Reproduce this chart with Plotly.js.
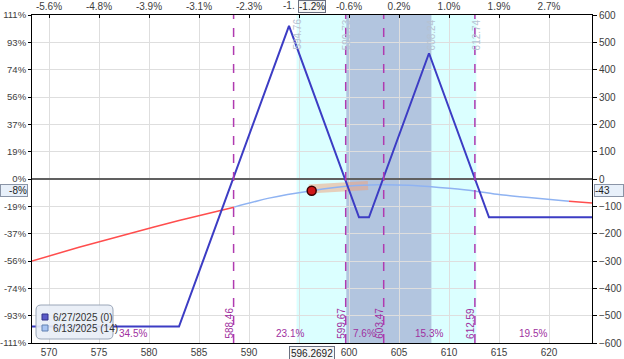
<!DOCTYPE html>
<html><head><meta charset="utf-8">
<script src="https://cdn.plot.ly/plotly-3.0.1.min.js"></script>
<style>html,body{margin:0;padding:0;background:#fff}#chart{width:624px;height:359px}</style>
</head><body><div id="chart"></div>
<script>
// ---- data ----
const xRange = [568.3, 624.3];
const priceTicks = [570, 575, 580, 585, 590, 595, 600, 605, 610, 615, 620];
const priceTickText = ['570', '575', '580', '585', '590', '', '600', '605', '610', '615', '620'];
const pctTickText = ['-5.6%', '-4.8%', '-3.9%', '-3.1%', '-2.3%', '', '-0.6%', '0.2%', '1.0%', '1.9%', '2.7%'];
const hiddenPctStub = '-1.';
const pnlTicks = [-600, -500, -400, -300, -200, -100, 0, 100, 200, 300, 400, 500, 600];
const pnlPctText = ['-111%', '-93%', '-74%', '-56%', '-37%', '-19%', '0%', '19%', '37%', '56%', '74%', '93%', '111%'];

const expiryName = '6/27/2025 (0)';
const expiryX = [568.3, 583, 594, 601, 602, 608, 614, 624.3];
const expiryY = [-540, -540, 560, -140, -140, 460, -140, -140];

const todayName = '6/13/2025 (14)';
const todayX = [568.3, 573, 578, 583, 588.5, 592, 596.27, 600, 603, 606, 609, 612, 615, 618, 622, 624.3];
const todayY = [-300, -250, -200, -152, -103, -70, -43, -26, -21, -23, -31, -41, -57, -68, -81, -88];
const todayInnerFrom = 588.5, todayInnerTo = 622;

const moveBandX = [596.0, 598.0, 600.0, 601.9];
const moveBandY = [-37, -32, -27, -24];

const currentPrice = 596.2692;
const currentPnl = -43;
const currentPnlPct = '-8%';
const currentMovePct = '-1.2%';

const sd1 = [594.76, 612.74];
const sdCore = [599.73, 608.24];
const breakevens = [588.46, 599.67, 603.47, 612.59];
const zoneProbs = ['34.5%', '23.1%', '7.6%', '15.3%', '19.5%'];

// ---- build ----
const purple = '#a030a0';
const inner = [], left = [], right = [];
todayX.forEach((x, i) => {
  if (x <= todayInnerFrom) left.push(i);
  if (x >= todayInnerFrom && x <= todayInnerTo) inner.push(i);
  if (x >= todayInnerTo) right.push(i);
});
const pick = (idx, arr) => idx.map(i => arr[i]);

const traces = [
  {x: moveBandX, y: moveBandY, mode: 'lines', line: {color: 'rgba(242,160,120,0.5)', width: 9}, hoverinfo: 'skip'},
  {x: pick(left, todayX), y: pick(left, todayY), mode: 'lines', line: {color: '#ff4d4d', width: 1.5, shape: 'spline', smoothing: 0.5}, name: todayName},
  {x: pick(inner, todayX), y: pick(inner, todayY), mode: 'lines', line: {color: '#8fb3f2', width: 1.5, shape: 'spline', smoothing: 0.5}, name: todayName},
  {x: pick(right, todayX), y: pick(right, todayY), mode: 'lines', line: {color: '#ff4d4d', width: 1.5, shape: 'spline', smoothing: 0.5}, name: todayName},
  {x: expiryX, y: expiryY, mode: 'lines', line: {color: '#3c3cc4', width: 2}, name: expiryName},
  {x: [currentPrice], y: [currentPnl], mode: 'markers', marker: {size: 9, color: '#d01818', line: {color: '#3a0000', width: 1.5}}},
  {x: [xRange[0]], y: [0], xaxis: 'x2', yaxis: 'y2', mode: 'markers', marker: {opacity: 0}, hoverinfo: 'skip'}
];

const shapes = [];
shapes.push({type: 'rect', xref: 'x', yref: 'paper', x0: sd1[0], x1: sd1[1], y0: 0, y1: 1, fillcolor: '#dbffff', line: {width: 0}, layer: 'below'});
shapes.push({type: 'rect', xref: 'x', yref: 'paper', x0: sdCore[0], x1: sdCore[1], y0: 0, y1: 1, fillcolor: '#b2c5df', line: {width: 0}, layer: 'below'});
breakevens.forEach(b => shapes.push({type: 'line', xref: 'x', yref: 'paper', x0: b, x1: b, y0: 0, y1: 1, line: {color: '#b03ab0', width: 1.5, dash: 'dash'}}));

// legend box (paper coords, plot area 560x328 px)
const W = 560, H = 328;
const px = v => (v - 32) / W, py = v => (343 - v) / H;
const lx0 = 36, lx1 = 113, ly0 = 305, ly1 = 339, r = 5;
shapes.push({type: 'path', xref: 'paper', yref: 'paper',
  path: `M ${px(lx0 + r)} ${py(ly0)} L ${px(lx1 - r)} ${py(ly0)} Q ${px(lx1)} ${py(ly0)} ${px(lx1)} ${py(ly0 + r)} L ${px(lx1)} ${py(ly1 - r)} Q ${px(lx1)} ${py(ly1)} ${px(lx1 - r)} ${py(ly1)} L ${px(lx0 + r)} ${py(ly1)} Q ${px(lx0)} ${py(ly1)} ${px(lx0)} ${py(ly1 - r)} L ${px(lx0)} ${py(ly0 + r)} Q ${px(lx0)} ${py(ly0)} ${px(lx0 + r)} ${py(ly0)} Z`,
  fillcolor: 'rgba(232,238,246,0.92)', line: {color: '#9aa6b8', width: 1}});
shapes.push({type: 'rect', xref: 'paper', yref: 'paper', x0: px(42), x1: px(48), y0: py(320), y1: py(314), fillcolor: '#5a5ac8', line: {color: '#303088', width: 1}});
shapes.push({type: 'rect', xref: 'paper', yref: 'paper', x0: px(42), x1: px(48), y0: py(331), y1: py(325), fillcolor: '#a8c4f2', line: {color: '#6080b0', width: 1}});

const annotations = [];
annotations.push({xref: 'paper', yref: 'paper', x: px(51), y: py(317.5), xanchor: 'left', yanchor: 'middle', text: expiryName, showarrow: false, font: {size: 10, color: '#333'}});
annotations.push({xref: 'paper', yref: 'paper', x: px(51), y: py(328.5), xanchor: 'left', yanchor: 'middle', text: todayName, showarrow: false, font: {size: 10, color: '#333'}});

breakevens.forEach(b => annotations.push({xref: 'x', yref: 'paper', x: b, y: 0, xanchor: 'right', yanchor: 'bottom', xshift: 3, yshift: 2, textangle: -90, text: b.toFixed(2), showarrow: false, font: {size: 10, color: purple}}));
[sd1[0], sdCore[0], sdCore[1], sd1[1]].forEach(v => annotations.push({xref: 'x', yref: 'paper', x: v, y: 1, xanchor: 'right', yanchor: 'top', xshift: 8, yshift: -2, textangle: -90, text: v.toFixed(2), showarrow: false, font: {size: 10, color: '#b6c2d2'}}));

const zoneEdges = [xRange[0]].concat(breakevens, [xRange[1]]);
zoneProbs.forEach((t, i) => annotations.push({xref: 'x', yref: 'y', x: (zoneEdges[i] + zoneEdges[i + 1]) / 2, y: -567, text: t, showarrow: false, font: {size: 10, color: purple}}));

annotations.push({xref: 'x', yref: 'paper', x: currentPrice, y: 0, yanchor: 'top', yshift: -3, text: String(currentPrice), showarrow: false, bgcolor: '#f6f6f6', bordercolor: '#6a7080', borderwidth: 1, borderpad: 1, font: {size: 10, color: '#222'}});
annotations.push({xref: 'x', yref: 'paper', x: currentPrice, y: 1, yanchor: 'bottom', yshift: 2, text: currentMovePct, showarrow: false, bgcolor: '#f6f6f6', bordercolor: '#6a7080', borderwidth: 1, borderpad: 0, font: {size: 10, color: '#222'}});
annotations.push({xref: 'x', yref: 'paper', x: currentPrice, y: 1, xanchor: 'right', yanchor: 'bottom', xshift: -15, yshift: 2, text: hiddenPctStub, showarrow: false, font: {size: 10, color: '#404040'}});
annotations.push({xref: 'paper', yref: 'y', x: 0, y: currentPnl, xanchor: 'right', xshift: -4, text: currentPnlPct, showarrow: false, bgcolor: '#e8f0fa', bordercolor: '#8a94a6', borderwidth: 1, borderpad: 0, width: 26, align: 'right', font: {size: 10, color: '#222'}});
annotations.push({xref: 'paper', yref: 'y', x: 1, y: currentPnl, xanchor: 'left', xshift: 2, text: String(currentPnl), showarrow: false, bgcolor: '#e8f0fa', bordercolor: '#8a94a6', borderwidth: 1, borderpad: 0, width: 28, align: 'left', font: {size: 10, color: '#222'}});

const layout = {
  width: 624, height: 359,
  margin: {l: 32, r: 32, t: 15, b: 16},
  paper_bgcolor: '#fff', plot_bgcolor: '#fff',
  showlegend: false,
  font: {family: 'Liberation Sans, Arial, sans-serif', size: 10, color: '#404040'},
  xaxis: {range: xRange, tickvals: priceTicks, ticktext: priceTickText, showgrid: true, gridcolor: '#dedede', gridwidth: 1, zeroline: false,
    showline: true, linecolor: '#000', linewidth: 1, ticks: '', tickfont: {size: 10, color: '#404040'}},
  xaxis2: {overlaying: 'x', side: 'top', range: xRange, tickvals: priceTicks, ticktext: pctTickText, showgrid: false, zeroline: false,
    showline: true, linecolor: '#000', linewidth: 1, ticks: 'inside', ticklen: 3, tickcolor: '#000', tickfont: {size: 10, color: '#404040'}},
  yaxis: {range: [-600, 600], tickvals: pnlTicks, ticktext: pnlPctText, showgrid: true, gridcolor: '#dedede', gridwidth: 1,
    zeroline: true, zerolinecolor: '#606060', zerolinewidth: 1.5, showline: true, linecolor: '#000', linewidth: 1,
    ticks: 'outside', ticklen: 3, tickcolor: '#000', ticklabelstandoff: 0, tickfont: {size: 9.5, color: '#404040'}},
  yaxis2: {overlaying: 'y', side: 'right', range: [-600, 600], tickvals: pnlTicks, showgrid: false, zeroline: false,
    showline: true, linecolor: '#000', linewidth: 1, ticks: 'outside', ticklen: 4, tickcolor: '#000', tickfont: {size: 10, color: '#404040'}},
  shapes: shapes,
  annotations: annotations
};

Plotly.newPlot('chart', traces, layout, {displayModeBar: false, staticPlot: true});
</script></body></html>
